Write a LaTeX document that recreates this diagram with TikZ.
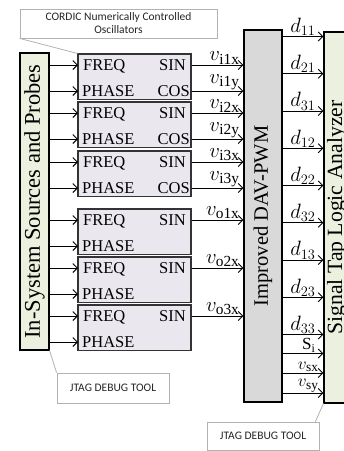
\documentclass[tikz,border=0pt]{standalone}
\usepackage{fontspec}
\setmainfont{Liberation Serif}
\newfontfamily\calloutfont{Carlito}
\usetikzlibrary{arrows.meta}
\definecolor{ncofill}{HTML}{EAE7EF}
\definecolor{davfill}{HTML}{D9D9D9}
\definecolor{tapfill}{HTML}{EBF1DE}
\newcommand{\sig}[2]{$#1_{\mathrm{#2}}$}

\begin{document}
\begin{tikzpicture}[x=1pt, y=-1pt,
    sigarrow/.style={-{Straight Barb[length=4.5pt,width=9pt]}, line width=1pt},
    ncobox/.style={draw=black!80, line width=1.1pt, fill=ncofill, minimum width=113pt, minimum height=45.5pt, inner sep=0pt},
    port/.style={font=\fontsize{16.5}{18}\selectfont, inner sep=0pt},
    vlab/.style={font=\fontsize{22}{23}\selectfont, inner sep=0.5pt, pos=1, anchor=south east, xshift=-3pt},
    dlab/.style={font=\fontsize{22}{24}\selectfont, inner sep=0.5pt, pos=1, anchor=south east, xshift=-7pt},
    callout/.style={draw=black!30, line width=0.8pt, fill=white, font=\calloutfont\fontsize{11.5}{13}\selectfont, text=black!85, align=center, inner sep=1pt},
    pointer/.style={draw=black!30, line width=0.8pt}]
    \clip (0,0) rectangle (344,451);

    % Sources and probes (left), DAV-PWM (middle), Signal Tap (right)
    \node[draw, line width=1.1pt, fill=tapfill, minimum width=29pt, minimum height=297pt, inner sep=0pt,
          font=\fontsize{22.5}{24}\selectfont] (src) at (34.5,201.5) {\rotatebox{90}{In-System Sources and Probes}};
    \node[draw, line width=1.1pt, fill=davfill, minimum width=38pt, minimum height=372pt, inner sep=0pt,
          font=\fontsize{20.5}{22}\selectfont] (dav) at (263,216) {\rotatebox{90}{Improved DAV-PWM}};
    \node[draw, line width=1.1pt, fill=tapfill, minimum width=26pt, minimum height=371pt, inner sep=0pt,
          font=\fontsize{21.7}{23}\selectfont] (sta) at (337,217.5) {\rotatebox{90}{Signal Tap Logic Analyzer}};

    % NCOs with sine and cosine outputs
    \foreach \t/\n in {54/1,102/2,151/3} {
        \node[ncobox] (ncoi\n) at (134.5,\t+22.75) {};
        \coordinate (fri\n) at (78,\t+11);
        \coordinate (phi\n) at (78,\t+37);
        \node[port, anchor=base west] (freqi\n) at (83,\t+16.5) {FREQ};
        \node[port, anchor=base west] (phasei\n) at (82,\t+42.5) {PHASE};
        \node[port, anchor=base east] (sini\n) at (186,\t+16.5) {SIN};
        \node[port, anchor=base east] (cosi\n) at (190,\t+42.5) {COS};
        \draw[sigarrow] (src.east |- fri\n) -- (fri\n);
        \draw[sigarrow] (src.east |- phi\n) -- (phi\n);
        \draw[sigarrow] (ncoi\n.east |- fri\n) -- (dav.west |- fri\n) node[vlab] (vix\n) {\sig{v}{i\n x}};
        \draw[sigarrow] (ncoi\n.east |- phi\n) -- (dav.west |- phi\n) node[vlab] (viy\n) {\sig{v}{i\n y}};
    }

    % NCOs with sine output only
    \foreach \t/\n in {209/1,257/2,305/3} {
        \node[ncobox] (ncoo\n) at (134.5,\t+22.75) {};
        \coordinate (fro\n) at (78,\t+11);
        \coordinate (pho\n) at (78,\t+37);
        \node[port, anchor=base west] (freqo\n) at (83,\t+16.5) {FREQ};
        \node[port, anchor=base west] (phaseo\n) at (82,\t+42.5) {PHASE};
        \node[port, anchor=base east] (sino\n) at (186,\t+16.5) {SIN};
        \draw[sigarrow] (src.east |- fro\n) -- (fro\n);
        \draw[sigarrow] (src.east |- pho\n) -- (pho\n);
        \draw[sigarrow] (ncoo\n.east |- fro\n) -- (dav.west |- fro\n) node[vlab] (vox\n) {\sig{v}{o\n x}};
    }

    % duty cycles to the logic analyzer
    \foreach \lab [count=\i] in {11,21,31,12,22,32,13,23,33} {
        \coordinate (dr\i) at (282,{36.5+(\i-1)*37.25});
        \draw[sigarrow] (dav.east |- dr\i) -- (sta.west |- dr\i) node[dlab] (d\lab) {$d_{\lab}$};
    }
    \coordinate (sr) at (282,353.5);
    \coordinate (sxr) at (282,373);
    \coordinate (syr) at (282,393);
    \draw[sigarrow] (sr) -- (sta.west |- sr) node[dlab, font=\fontsize{17}{18}\selectfont] (si) {$\mathrm{S_i}$};
    \draw[sigarrow] (sxr) -- (sta.west |- sxr) node[dlab, font=\fontsize{19}{20}\selectfont, xshift=3pt] (vsx) {\sig{v}{sx}};
    \draw[sigarrow] (syr) -- (sta.west |- syr) node[dlab, font=\fontsize{19}{20}\selectfont, xshift=3pt] (vsy) {\sig{v}{sy}};

    % callouts
    \node[callout, minimum width=197pt, minimum height=29pt] (cordic) at (118.5,23.5) {CORDIC Numerically Controlled\\Oscillators};
    \draw[pointer] (cordic.south west) -- (ncoi1.north west);
    \node[callout, minimum width=112pt, minimum height=30pt] (jtagl) at (113,388) {JTAG DEBUG TOOL};
    \draw[pointer] (src.south east) -- (jtagl.north west);
    \node[callout, minimum width=112pt, minimum height=28pt] (jtagr) at (263,436) {JTAG DEBUG TOOL};
    \draw[pointer] (sta.south west) -- ([xshift=-4pt]jtagr.north east);
\end{tikzpicture}
\end{document}
